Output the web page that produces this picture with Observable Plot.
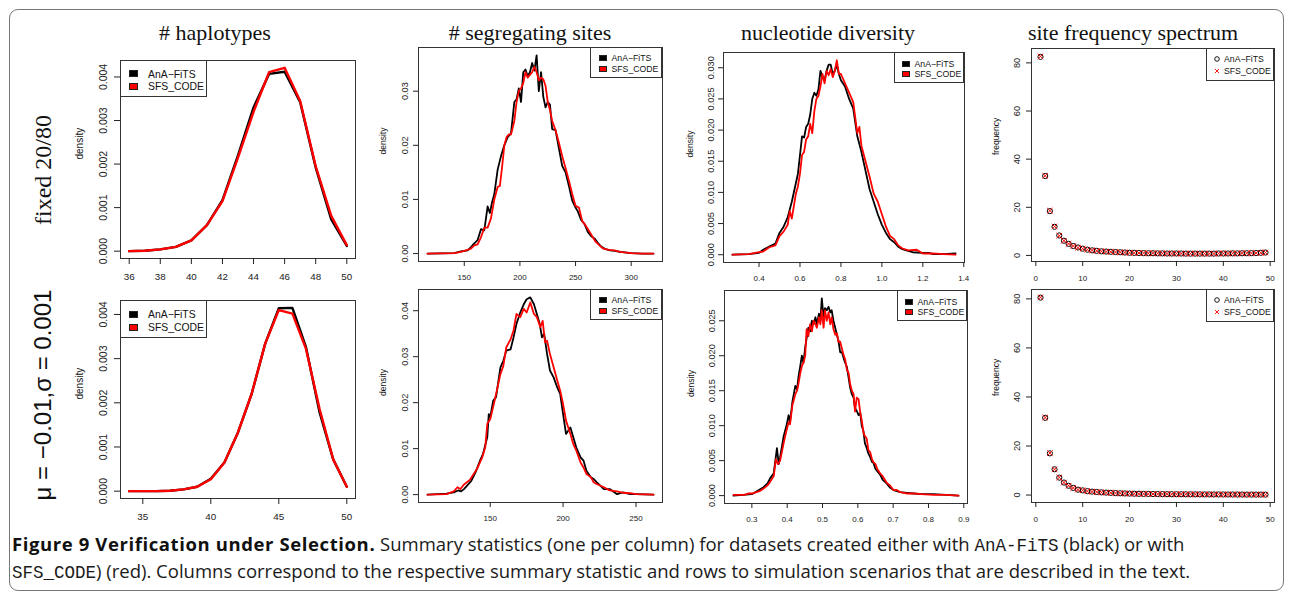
<!DOCTYPE html>
<html><head><meta charset="utf-8">
<script src="https://cdn.jsdelivr.net/npm/d3@7"></script>
<script src="https://cdn.jsdelivr.net/npm/@observablehq/plot@0.6"></script>
<style>
body{margin:0;background:#fff;}
#fig{position:relative;width:1292px;height:599px;overflow:hidden;background:#fff;font-family:"Liberation Sans",Arial,sans-serif;}
.border{position:absolute;left:9px;top:9px;width:1275px;height:582px;border:1.3px solid #777;border-radius:9px;box-sizing:border-box;}
.coltitle{position:absolute;font-family:"Liberation Serif","Times New Roman",serif;font-size:22px;white-space:nowrap;transform:translate(-50%,-50%);color:#111;}
.rowtitle{position:absolute;font-size:24px;white-space:nowrap;transform:translate(-50%,-50%) rotate(-90deg);color:#111;}
.serif{font-family:"Liberation Serif","Times New Roman",serif;}
.cap{position:absolute;left:12px;font-family:"Open Sans",sans-serif;font-size:18.5px;line-height:26.5px;white-space:nowrap;color:#1a1a1a;}
.cap b{font-weight:700;color:#111;letter-spacing:0.6px;}
.mono{font-family:"Liberation Mono",monospace;font-size:17.5px;}
.pw{position:absolute;}
.pw svg{max-width:none;}
.leg{position:absolute;border:1px solid #333;background:#fff;box-sizing:border-box;}
.leg .sw{position:absolute;box-sizing:border-box;border:0.6px solid #222;}
.leg .lab{position:absolute;transform:translateY(-50%);color:#111;}
</style>
</head><body>
<div id="fig">
  <div class="border"></div>
</div>
<script>
// ---------------- data ----------------
const colTitles = ["# haplotypes", "# segregating sites", "nucleotide diversity", "site frequency spectrum"];
const rowTitles = ["fixed 20/80", "μ = −0.01,σ = 0.001"];
const seriesNames = ["AnA−FiTS", "SFS_CODE"];

// # haplotypes, row 1
const hapX1   = [36,37,38,39,40,41,42,43,44,45,46,47,48,49,50];
const hapAna1 = [0,0.00001,0.00004,0.0001,0.00025,0.0006,0.00117,0.0022,0.0033,0.00407,0.00412,0.00342,0.00192,0.00073,0.00012];
const hapSfs1 = [0,0.00001,0.00004,0.0001,0.00025,0.0006,0.00115,0.00215,0.0032,0.00411,0.00421,0.00345,0.00195,0.00081,0.00014];
// # haplotypes, row 2
const hapX2   = [34,35,36,37,38,39,40,41,42,43,44,45,46,47,48,49,50];
const hapAna2 = [0,0,0,0.00001,0.00004,0.0001,0.00028,0.00065,0.00133,0.0022,0.00334,0.00414,0.00415,0.00326,0.00178,0.00072,0.0001];
const hapSfs2 = [0,0,0,0.00001,0.00004,0.0001,0.00027,0.00065,0.00133,0.0022,0.00334,0.0041,0.00402,0.00322,0.00186,0.00072,0.0001];

// # segregating sites, row 1
const segAnaX1 = [117,141,147,153,156,159,162,165,168,171,173,175,177,180,183,186,189,192,195,197,199,201,203,205,207,209,211,213,215,217,219,221,223,225,227,229,232,235,238,241,244,247,250,252,255,258,261,264,267,270,273,277,281,285,290,300,310,320];
const segAnaY1 = [0,0.0001,0.0004,0.0006,0.0012,0.0019,0.0025,0.0045,0.0043,0.0087,0.0075,0.0095,0.011,0.0155,0.018,0.02,0.0215,0.0222,0.028,0.0285,0.0305,0.028,0.0335,0.034,0.0328,0.0335,0.0352,0.0338,0.0366,0.030,0.0335,0.029,0.027,0.028,0.0275,0.023,0.0228,0.0195,0.0162,0.015,0.0125,0.0098,0.0085,0.0078,0.0062,0.0055,0.004,0.0032,0.0028,0.002,0.0013,0.0008,0.0006,0.0005,0.0003,0.0001,0,0];
const segSfsX1 = [117,141,147,153,156,159,162,165,168,171,174,177,180,182,184,186,188,190,192,195,197,199,201,203,205,207,209,211,213,215,217,219,221,223,225,227,229,232,235,238,241,244,247,250,253,256,259,262,265,268,271,275,280,285,290,300,310,320];
const segSfsY1 = [0,0.0001,0.0003,0.0007,0.0009,0.0015,0.0017,0.003,0.0048,0.0048,0.0065,0.01,0.0123,0.0125,0.016,0.02,0.0215,0.022,0.022,0.0245,0.028,0.03,0.0305,0.0315,0.0335,0.0325,0.033,0.0335,0.0345,0.0335,0.032,0.0325,0.0322,0.031,0.028,0.0265,0.0245,0.0228,0.0205,0.018,0.0158,0.0135,0.011,0.0088,0.0085,0.006,0.0052,0.0042,0.0032,0.0022,0.0016,0.0009,0.0007,0.0006,0.0003,0.0001,0,0];
// # segregating sites, row 2
const segAnaX2 = [107,120,125,128,130,132,137,140,143,145,148,149,150,152,154,157,159,161,164,166,168,170.6,173,175,177.5,180,182,184,185.5,187,189,191,193.5,196,198,200,202,205,207,209,212,214,216,219,221,223,228,232,237,241,246,250,262];
const segAnaY2 = [0,0.0002,0.0005,0.0009,0.0007,0.0012,0.003,0.0049,0.0074,0.0088,0.0125,0.0175,0.0168,0.0204,0.0212,0.0277,0.0291,0.0313,0.0316,0.0342,0.0371,0.0396,0.0414,0.0425,0.0429,0.0414,0.0393,0.0371,0.0342,0.035,0.0306,0.027,0.0255,0.0233,0.0219,0.0175,0.0132,0.0146,0.0125,0.0103,0.0081,0.0074,0.0052,0.0038,0.0034,0.0027,0.0012,0.0012,0.0001,0.0005,0.0001,0.0001,0];
const segSfsX2 = [107,120,125,127.5,129.5,132,136,141,144.5,146.6,148,150,153,157,159,161,164,166,168,170.6,173,175,177.5,180,182,184.4,186,187.6,189,191,193.5,196,198,200,202,205,207,209,212,214,216,219,221,223,228,232,237,241,246,250,262];
const segSfsY2 = [0,0.0001,0.0007,0.0016,0.0012,0.0022,0.0032,0.0056,0.0081,0.0103,0.0154,0.0164,0.0204,0.0262,0.028,0.032,0.0338,0.0357,0.0393,0.0386,0.0404,0.0396,0.0418,0.0393,0.0386,0.0364,0.0378,0.0331,0.0335,0.0306,0.0277,0.0248,0.0226,0.0197,0.0161,0.0132,0.011,0.0096,0.007,0.0059,0.0045,0.0038,0.0027,0.0023,0.0016,0.0009,0.0007,0.0004,0.0003,0.0001,0];

// nucleotide diversity, row 1
const nucAnaX1 = [0.27,0.35,0.40,0.42,0.45,0.48,0.50,0.52,0.54,0.56,0.58,0.59,0.60,0.61,0.62,0.63,0.64,0.65,0.66,0.67,0.68,0.69,0.70,0.71,0.72,0.73,0.74,0.75,0.76,0.77,0.78,0.79,0.80,0.82,0.84,0.86,0.88,0.90,0.92,0.94,0.96,0.98,1.00,1.02,1.04,1.06,1.08,1.10,1.12,1.15,1.20,1.23,1.25,1.30,1.36];
const nucAnaY1 = [0,0.0001,0.0003,0.0008,0.0013,0.0018,0.0035,0.0045,0.006,0.0085,0.0115,0.013,0.016,0.019,0.0188,0.0205,0.021,0.0225,0.025,0.026,0.0255,0.0265,0.0295,0.0285,0.028,0.0295,0.0305,0.0305,0.029,0.0295,0.0305,0.029,0.028,0.027,0.025,0.0235,0.019,0.0165,0.0135,0.0105,0.0085,0.0065,0.0048,0.0035,0.0025,0.002,0.0013,0.0009,0.0007,0.0004,0.0003,0.0003,0.0001,0.0001,0.0002];
const nucSfsX1 = [0.27,0.35,0.40,0.42,0.45,0.48,0.50,0.52,0.54,0.55,0.56,0.58,0.59,0.60,0.61,0.62,0.63,0.64,0.65,0.66,0.67,0.68,0.69,0.70,0.71,0.72,0.73,0.74,0.75,0.76,0.77,0.78,0.79,0.80,0.82,0.84,0.86,0.88,0.89,0.90,0.92,0.94,0.96,0.98,1.00,1.02,1.04,1.06,1.08,1.10,1.13,1.17,1.20,1.25,1.30,1.36];
const nucSfsY1 = [0,0.0001,0.0004,0.0005,0.0012,0.0015,0.003,0.0037,0.0048,0.007,0.0058,0.0098,0.011,0.013,0.016,0.0165,0.0185,0.019,0.021,0.0195,0.023,0.025,0.0255,0.027,0.029,0.0275,0.0295,0.0288,0.0298,0.0285,0.0295,0.0312,0.029,0.029,0.0275,0.026,0.0245,0.0195,0.0205,0.0175,0.015,0.0125,0.0098,0.0085,0.0065,0.0045,0.003,0.0025,0.0015,0.001,0.0007,0.0008,0.0002,0.0002,0.0001,0];
// nucleotide diversity, row 2
const nucAnaX2 = [0.248,0.30,0.32,0.333,0.345,0.352,0.362,0.371,0.376,0.380,0.39,0.399,0.404,0.408,0.415,0.423,0.428,0.432,0.437,0.4415,0.446,0.451,0.455,0.460,0.465,0.47,0.4745,0.48,0.484,0.49,0.494,0.498,0.503,0.507,0.512,0.517,0.522,0.526,0.531,0.536,0.541,0.545,0.55,0.555,0.559,0.564,0.569,0.574,0.578,0.583,0.588,0.592,0.597,0.602,0.607,0.611,0.616,0.62,0.625,0.63,0.635,0.64,0.644,0.65,0.655,0.663,0.67,0.682,0.69,0.701,0.72,0.74,0.758,0.78,0.814,0.85,0.885];
const nucAnaY2 = [0,0.0002,0.0008,0.0012,0.0018,0.0025,0.0032,0.0068,0.0045,0.0055,0.0085,0.0102,0.0115,0.0105,0.0135,0.0157,0.0152,0.017,0.0185,0.02,0.019,0.0212,0.0225,0.024,0.0235,0.025,0.0245,0.0255,0.0245,0.026,0.025,0.0282,0.0255,0.0268,0.0265,0.027,0.0262,0.0265,0.025,0.024,0.0229,0.0222,0.0205,0.0205,0.0198,0.019,0.0184,0.0168,0.0155,0.0145,0.014,0.0125,0.0121,0.0115,0.0118,0.01,0.0092,0.0075,0.0068,0.006,0.0055,0.0048,0.0047,0.0038,0.0035,0.003,0.0023,0.0017,0.0012,0.0008,0.0005,0.0004,0.0003,0.0002,0.0002,0.0001,0];
const nucSfsX2 = [0.248,0.27,0.28,0.29,0.30,0.32,0.333,0.345,0.352,0.362,0.368,0.374,0.38,0.39,0.399,0.404,0.408,0.415,0.423,0.428,0.432,0.437,0.4415,0.446,0.451,0.455,0.46,0.465,0.47,0.4745,0.48,0.484,0.49,0.494,0.498,0.503,0.507,0.512,0.517,0.522,0.526,0.531,0.536,0.541,0.545,0.55,0.555,0.559,0.564,0.569,0.574,0.578,0.583,0.588,0.592,0.597,0.602,0.607,0.611,0.616,0.62,0.625,0.63,0.635,0.64,0.644,0.65,0.655,0.663,0.67,0.682,0.69,0.701,0.71,0.72,0.74,0.758,0.78,0.814,0.85,0.885];
const nucSfsY2 = [0.0001,0.0001,0.0001,0.0003,0.0003,0.0006,0.001,0.0015,0.002,0.0028,0.0052,0.0045,0.005,0.0075,0.0095,0.0105,0.0102,0.013,0.0145,0.015,0.016,0.0175,0.0185,0.019,0.02,0.0238,0.0228,0.0245,0.0235,0.025,0.0245,0.024,0.0255,0.0245,0.0265,0.024,0.0265,0.025,0.0262,0.0245,0.0255,0.0238,0.023,0.0232,0.022,0.022,0.021,0.0202,0.0195,0.018,0.0175,0.016,0.015,0.0145,0.012,0.014,0.0138,0.0118,0.0108,0.009,0.0085,0.0082,0.0065,0.0062,0.0052,0.0048,0.0045,0.0038,0.0032,0.0028,0.0018,0.0015,0.0008,0.0008,0.0005,0.0003,0.0003,0.0002,0.0001,0.0001,0];

// site frequency spectrum
const sfsK = [1,2,3,4,5,6,7,8,9,10,11,12,13,14,15,16,17,18,19,20,21,22,23,24,25,26,27,28,29,30,31,32,33,34,35,36,37,38,39,40,41,42,43,44,45,46,47,48,49];
const sfsAna1 = [82.5,33.0,18.4,11.9,8.3,6.1,4.8,3.9,3.3,2.8,2.4,2.1,1.9,1.7,1.6,1.5,1.4,1.3,1.2,1.1,1.05,1.0,0.95,0.9,0.9,0.85,0.85,0.8,0.8,0.8,0.8,0.75,0.75,0.75,0.75,0.75,0.75,0.75,0.8,0.8,0.8,0.85,0.85,0.9,0.9,0.95,1.0,1.1,1.2];
const sfsSfs1 = [82.7,33.1,18.6,12.0,8.2,6.1,4.8,3.9,3.2,2.8,2.4,2.1,1.9,1.7,1.6,1.5,1.4,1.3,1.2,1.1,1.05,1.0,0.95,0.9,0.9,0.85,0.85,0.8,0.8,0.8,0.8,0.75,0.75,0.75,0.75,0.75,0.75,0.75,0.8,0.8,0.8,0.85,0.85,0.9,0.9,0.95,1.0,1.1,1.2];
const sfsAna2 = [80.5,31.5,17.0,10.5,7.1,5.1,3.8,2.9,2.2,1.9,1.6,1.4,1.25,1.1,1.0,0.9,0.8,0.72,0.65,0.6,0.55,0.5,0.47,0.45,0.42,0.4,0.38,0.36,0.34,0.33,0.32,0.31,0.3,0.29,0.28,0.27,0.26,0.25,0.25,0.24,0.23,0.22,0.22,0.21,0.2,0.2,0.19,0.19,0.18];
const sfsSfs2 = [80.6,31.6,17.1,10.5,7.2,5.1,3.8,2.9,2.2,1.9,1.6,1.4,1.25,1.1,1.0,0.9,0.8,0.72,0.65,0.6,0.55,0.5,0.47,0.45,0.42,0.4,0.38,0.36,0.34,0.33,0.32,0.31,0.3,0.29,0.28,0.27,0.26,0.25,0.25,0.24,0.23,0.22,0.22,0.21,0.2,0.2,0.19,0.19,0.18];

// tick values
const hapTicksX1 = [36,38,40,42,44,46,48,50];
const hapTicksX2 = [35,40,45,50];
const hapTicksY  = [0,0.001,0.002,0.003,0.004];
const segTicksX1 = [150,200,250,300];
const segTicksX2 = [150,200,250];
const segTicksY1 = [0,0.01,0.02,0.03];
const segTicksY2 = [0,0.01,0.02,0.03,0.04];
const nucTicksX1 = [0.4,0.6,0.8,1.0,1.2,1.4];
const nucTicksX2 = [0.3,0.4,0.5,0.6,0.7,0.8,0.9];
const nucTicksY1 = [0,0.005,0.010,0.015,0.020,0.025,0.030];
const nucTicksY2 = [0,0.005,0.010,0.015,0.020,0.025];
const sfsTicksX  = [0,10,20,30,40,50];
const sfsTicksY  = [0,20,40,60,80];

// ---------------- helpers ----------------
const zipXY = (xs, ys) => xs.map((x, i) => ({x, y: ys[i]}));
const rpad = (vals) => { const [a, b] = d3.extent(vals); const p = (b - a) * 0.04; return [a - p, b + p]; };
const fig = document.getElementById("fig");

function makePanel(p) {
  const ml = 60, mr = 4, mt = 4, mb = 36;
  const [l, t, r, b] = p.frame;
  const w = r - l, h = b - t;
  const allX = p.series.flatMap(s => s.xs), allY = p.series.flatMap(s => s.ys);
  const marks = [];
  p.series.forEach(s => {
    const data = zipXY(s.xs, s.ys);
    if (s.type === "line") marks.push(Plot.line(data, {x: "x", y: "y", stroke: s.color, strokeWidth: p.lw, strokeLinejoin: "round"}));
    else marks.push(Plot.dot(data, {x: "x", y: "y", stroke: s.color, symbol: s.symbol, r: 2.6, strokeWidth: 1}));
  });
  marks.push(
    Plot.frame({stroke: "#333", strokeWidth: 1}),
    Plot.axisX({ticks: p.xt, tickFormat: p.xf, tickSize: p.ts, tickPadding: p.xpad, fontSize: p.fx, label: null}),
    Plot.axisY({ticks: p.yt, tickFormat: p.yf, tickSize: p.ts, tickPadding: p.ypad, tickRotate: -90, fontSize: p.fy, label: null}),
    Plot.text([p.ylabel], {text: d => d, frameAnchor: "left", rotate: -90, dx: -p.labOff, fontSize: p.fl, fill: "#111"})
  );
  const svg = Plot.plot({
    width: w + ml + mr, height: h + mt + mb,
    marginLeft: ml, marginRight: mr, marginTop: mt, marginBottom: mb,
    x: {domain: rpad(allX), label: null},
    y: {domain: rpad(allY), label: null},
    style: {fontFamily: "'Liberation Sans', Arial, sans-serif", background: "transparent", color: "#222", overflow: "visible"},
    marks
  });
  const wrap = document.createElement("div");
  wrap.className = "pw";
  wrap.style.left = (l - ml) + "px";
  wrap.style.top = (t - mt) + "px";
  wrap.style.width = (w + ml + mr) + "px";
  wrap.appendChild(svg);
  fig.appendChild(wrap);

  // legend
  const L = p.leg;
  const box = document.createElement("div");
  box.className = "leg";
  box.style.width = L.w + "px"; box.style.height = L.h + "px";
  box.style.left = (L.corner === "tl" ? l : r - L.w) + "px";
  box.style.top = t + "px";
  box.style.fontSize = L.fs + "px";
  seriesNames.forEach((name, i) => {
    const cy = L.rows[i];
    const color = p.series[i].color;
    if (p.series[i].type === "line") {
      const sw = document.createElement("div");
      sw.className = "sw";
      sw.style.left = L.sx + "px"; sw.style.top = (cy - L.sh / 2) + "px";
      sw.style.width = L.sw + "px"; sw.style.height = L.sh + "px";
      sw.style.background = color;
      box.appendChild(sw);
    } else {
      const ns = "http://www.w3.org/2000/svg";
      const s = document.createElementNS(ns, "svg");
      s.setAttribute("width", 8); s.setAttribute("height", 8);
      s.style.position = "absolute"; s.style.left = (L.sx - 1) + "px"; s.style.top = (cy - 4) + "px";
      if (p.series[i].symbol === "circle") {
        s.innerHTML = `<circle cx="4" cy="4" r="2.3" fill="none" stroke="${color}" stroke-width="0.9"/>`;
      } else {
        s.innerHTML = `<path d="M2,2L6,6M6,2L2,6" stroke="${color}" stroke-width="0.9"/>`;
      }
      box.appendChild(s);
    }
    const lab = document.createElement("div");
    lab.className = "lab";
    lab.style.left = L.tx + "px"; lab.style.top = cy + "px";
    lab.style.whiteSpace = "nowrap";
    lab.textContent = name;
    box.appendChild(lab);
  });
  fig.appendChild(box);
}

const f3 = d3.format(".3f"), f2 = d3.format(".2f"), f1 = d3.format(".1f"), fd = d3.format("d");
const legBig  = {corner: "tl", w: 87, h: 37, fs: 10.4, sx: 8, sw: 9, sh: 7, tx: 27, rows: [12.7, 25]};
const legBig2 = {corner: "tl", w: 87, h: 38, fs: 10.4, sx: 8, sw: 9, sh: 7, tx: 27, rows: [13.3, 26]};
const legSmall = {corner: "tr", w: 72, h: 31, fs: 8.7, sx: 8, sw: 8, sh: 6, tx: 20.5, rows: [10.3, 21.3]};
const legNuc = {corner: "tr", w: 70, h: 31, fs: 8.7, sx: 7, sw: 8, sh: 6, tx: 19.5, rows: [10.5, 21.3]};
const legSfs = {corner: "tr", w: 68, h: 33, fs: 8.7, sx: 7, sw: 8, sh: 6, tx: 17, rows: [10.3, 21.5]};

const panels = [
  {frame: [120, 60, 355, 258], lw: 2.4,
   series: [{type: "line", xs: hapX1, ys: hapAna1, color: "#000"}, {type: "line", xs: hapX1, ys: hapSfs1, color: "#ff0000"}],
   xt: hapTicksX1, yt: hapTicksY, xf: fd, yf: f3, fx: 9.8, fy: 10.5, fl: 10, ylabel: "density", ts: 6, xpad: 9, ypad: 8, labOff: 41, leg: legBig},
  {frame: [418, 47, 662, 261], lw: 1.8,
   series: [{type: "line", xs: segAnaX1, ys: segAnaY1, color: "#000"}, {type: "line", xs: segSfsX1, ys: segSfsY1, color: "#ff0000"}],
   xt: segTicksX1, yt: segTicksY1, xf: fd, yf: f2, fx: 8, fy: 9.2, fl: 8.5, ylabel: "density", ts: 5, xpad: 8, ypad: 6, labOff: 35, leg: legSmall},
  {frame: [723, 52, 964, 262], lw: 1.8,
   series: [{type: "line", xs: nucAnaX1, ys: nucAnaY1, color: "#000"}, {type: "line", xs: nucSfsX1, ys: nucSfsY1, color: "#ff0000"}],
   xt: nucTicksX1, yt: nucTicksY1, xf: f1, yf: f3, fx: 8, fy: 9.2, fl: 8.5, ylabel: "density", ts: 5, xpad: 8, ypad: 5, labOff: 33, leg: legNuc},
  {frame: [1031, 48, 1274, 261], lw: 1,
   series: [{type: "dot", symbol: "circle", xs: sfsK, ys: sfsAna1, color: "#000"}, {type: "dot", symbol: "times", xs: sfsK, ys: sfsSfs1, color: "#ff0000"}],
   xt: sfsTicksX, yt: sfsTicksY, xf: fd, yf: fd, fx: 8, fy: 9.2, fl: 8.5, ylabel: "frequency", ts: 5, xpad: 9, ypad: 7, labOff: 35, leg: legSfs},
  {frame: [120, 300, 355, 498], lw: 2.4,
   series: [{type: "line", xs: hapX2, ys: hapAna2, color: "#000"}, {type: "line", xs: hapX2, ys: hapSfs2, color: "#ff0000"}],
   xt: hapTicksX2, yt: hapTicksY, xf: fd, yf: f3, fx: 9.8, fy: 10.5, fl: 10, ylabel: "density", ts: 6, xpad: 9, ypad: 8, labOff: 41, leg: legBig2},
  {frame: [418, 289, 662, 502], lw: 1.8,
   series: [{type: "line", xs: segAnaX2, ys: segAnaY2, color: "#000"}, {type: "line", xs: segSfsX2, ys: segSfsY2, color: "#ff0000"}],
   xt: segTicksX2, yt: segTicksY2, xf: fd, yf: f2, fx: 8, fy: 9.2, fl: 8.5, ylabel: "density", ts: 5, xpad: 8, ypad: 6, labOff: 35, leg: legSmall},
  {frame: [724, 290, 967, 503], lw: 1.8,
   series: [{type: "line", xs: nucAnaX2, ys: nucAnaY2, color: "#000"}, {type: "line", xs: nucSfsX2, ys: nucSfsY2, color: "#ff0000"}],
   xt: nucTicksX2, yt: nucTicksY2, xf: f1, yf: f3, fx: 8, fy: 9.2, fl: 8.5, ylabel: "density", ts: 5, xpad: 8, ypad: 5, labOff: 33, leg: legNuc},
  {frame: [1031, 289, 1274, 502], lw: 1,
   series: [{type: "dot", symbol: "circle", xs: sfsK, ys: sfsAna2, color: "#000"}, {type: "dot", symbol: "times", xs: sfsK, ys: sfsSfs2, color: "#ff0000"}],
   xt: sfsTicksX, yt: sfsTicksY, xf: fd, yf: fd, fx: 8, fy: 9.2, fl: 8.5, ylabel: "frequency", ts: 5, xpad: 9, ypad: 7, labOff: 35, leg: legSfs}
];
panels.forEach(makePanel);

// titles
const colX = [215, 530, 828, 1133];
colTitles.forEach((t, i) => {
  const d = document.createElement("div");
  d.className = "coltitle"; d.textContent = t;
  d.style.left = colX[i] + "px"; d.style.top = "33px";
  fig.appendChild(d);
});
const rowY = [170, 395];
rowTitles.forEach((t, i) => {
  const d = document.createElement("div");
  d.className = "rowtitle" + (i === 0 ? " serif" : "");
  d.textContent = t;
  d.style.left = "43px"; d.style.top = rowY[i] + "px";
  fig.appendChild(d);
});

// caption
const c1 = document.createElement("div");
c1.className = "cap"; c1.style.top = "531px";
c1.innerHTML = '<b>Figure 9 Verification under Selection.</b> Summary statistics (one per column) for datasets created either with <span class="mono">AnA-FiTS</span> (black) or with';
fig.appendChild(c1);
const c2 = document.createElement("div");
c2.className = "cap"; c2.style.top = "558px";
c2.innerHTML = '<span class="mono">SFS_CODE</span>) (red). Columns correspond to the respective summary statistic and rows to simulation scenarios that are described in the text.';
fig.appendChild(c2);
</script>
</body></html>
